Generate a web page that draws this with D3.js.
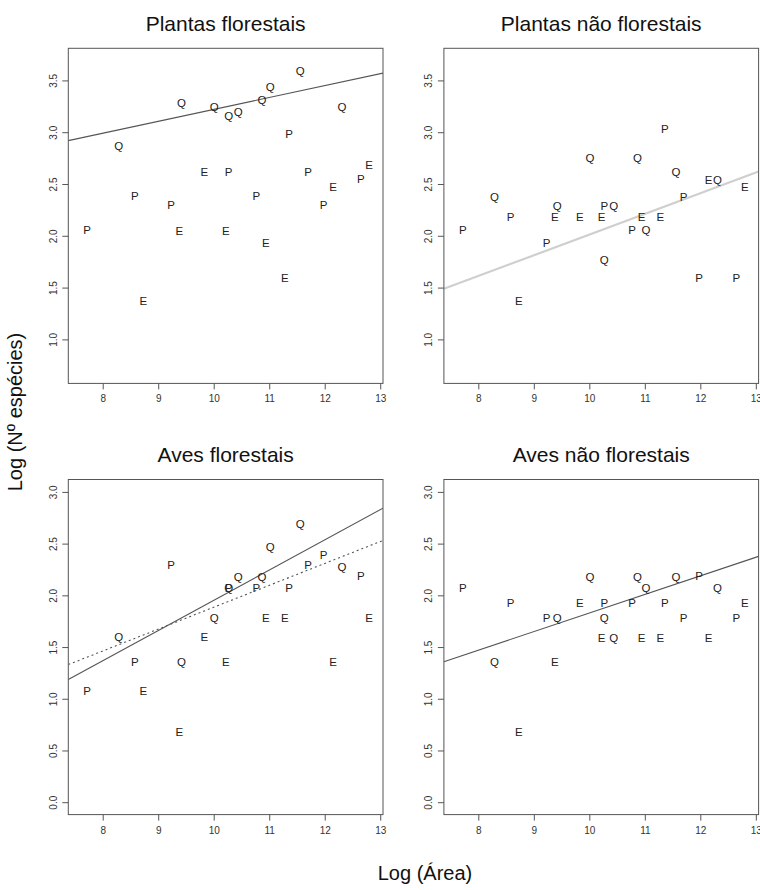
<!DOCTYPE html>
<html>
<head>
<meta charset="UTF-8">
<script src="https://d3js.org/d3.v7.min.js"></script>
<style>
  body { margin: 0; background: #fff; }
  text { font-family: 'Liberation Sans', Arial, sans-serif; }
</style>
</head>
<body>
<script>
var width = 760, height = 890;

// sites (same areas in the four panels)
var siteType = ['P','Q','P','E','P','E','Q','E','Q','E','P','Q','Q',
                'P','Q','E','Q','E','P','Q','P','P','E','Q','P','E'];
var logArea = [7.72, 8.29, 8.58, 8.73, 9.23, 9.38, 9.42, 9.83, 10.01, 10.22, 10.27, 10.27, 10.44,
               10.77, 10.87, 10.94, 11.02, 11.28, 11.36, 11.56, 11.70, 11.98, 12.15, 12.31, 12.65, 12.80];

// log of number of species per site
var plantasFlorestais    = [2.06, 2.87, 2.39, 1.37, 2.30, 2.05, 3.28, 2.62, 3.24, 2.05, 2.62, 3.16, 3.20,
                            2.39, 3.31, 1.93, 3.44, 1.59, 2.98, 3.59, 2.62, 2.30, 2.47, 3.24, 2.55, 2.68];
var plantasNaoFlorestais = [2.06, 2.38, 2.18, 1.37, 1.93, 2.18, 2.29, 2.18, 2.75, 2.18, 2.29, 1.77, 2.29,
                            2.06, 2.75, 2.18, 2.06, 2.18, 3.03, 2.62, 2.38, 1.59, 2.54, 2.54, 1.59, 2.47];
var avesFlorestais       = [1.08, 1.60, 1.36, 1.08, 2.29, 0.68, 1.36, 1.60, 1.78, 1.36, 2.07, 2.07, 2.18,
                            2.07, 2.18, 1.78, 2.47, 1.78, 2.07, 2.69, 2.29, 2.39, 1.36, 2.28, 2.19, 1.78];
var avesNaoFlorestais    = [2.07, 1.36, 1.93, 0.68, 1.78, 1.36, 1.78, 1.93, 2.18, 1.59, 1.93, 1.78, 1.59,
                            1.93, 2.18, 1.59, 2.07, 1.59, 1.93, 2.18, 1.78, 2.19, 1.59, 2.07, 1.78, 1.93];

var panelTitles = ['Plantas florestais', 'Plantas não florestais', 'Aves florestais', 'Aves não florestais'];
var xTicks = [8, 9, 10, 11, 12, 13];
var yTicksPlantas = [1.0, 1.5, 2.0, 2.5, 3.0, 3.5];
var yTicksAves = [0.0, 0.5, 1.0, 1.5, 2.0, 2.5, 3.0];

// fitted lines: intercept, slope
var fitPlantasFlorestais = [{a: 2.07, b: 0.115, kind: 'solid'}];
var fitPlantasNaoFlorestais = [{a: 0.015, b: 0.1996, kind: 'light'}];
var fitAvesFlorestais = [{a: -0.968, b: 0.292, kind: 'solid'}, {a: -0.231, b: 0.2116, kind: 'dotted'}];
var fitAvesNaoFlorestais = [{a: 0.033, b: 0.1796, kind: 'solid'}];

var panels = [
  {title: panelTitles[0], y: plantasFlorestais, ticks: yTicksPlantas, dom: [0.575, 3.81], fits: fitPlantasFlorestais, col: 0, row: 0},
  {title: panelTitles[1], y: plantasNaoFlorestais, ticks: yTicksPlantas, dom: [0.575, 3.81], fits: fitPlantasNaoFlorestais, col: 1, row: 0},
  {title: panelTitles[2], y: avesFlorestais, ticks: yTicksAves, dom: [-0.12, 3.12], fits: fitAvesFlorestais, col: 0, row: 1},
  {title: panelTitles[3], y: avesNaoFlorestais, ticks: yTicksAves, dom: [-0.12, 3.12], fits: fitAvesNaoFlorestais, col: 1, row: 1}
];

var boxW = 314.7, boxH = 335.1;
var svg = d3.select('body').append('svg').attr('width', width).attr('height', height);

panels.forEach(function(p, i) {
  var left = 68.3 + p.col * 375.6, top = 48.3 + p.row * 431.2;
  var x = d3.scaleLinear().domain([7.38, 13.05]).range([0, boxW]);
  var y = d3.scaleLinear().domain(p.dom).range([boxH, 0]);

  var g = svg.append('g').attr('transform', 'translate(' + left + ',' + top + ')');

  g.append('clipPath').attr('id', 'clip' + i)
    .append('rect').attr('width', boxW).attr('height', boxH);

  // axes
  var xa = g.append('g').attr('transform', 'translate(0,' + boxH + ')')
    .call(d3.axisBottom(x).tickValues(xTicks).tickSize(6).tickPadding(6).tickFormat(d3.format('d')));
  var ya = g.append('g')
    .call(d3.axisLeft(y).tickValues(p.ticks).tickSize(6).tickFormat(d3.format('.1f')));
  [xa, ya].forEach(function(a) {
    a.select('.domain').remove();
    a.selectAll('line').attr('stroke', '#555');
    a.selectAll('text').attr('fill', '#333').style('font-size', '10px');
  });
  ya.selectAll('text')
    .attr('x', null).attr('dy', null)
    .attr('text-anchor', 'middle')
    .attr('transform', 'translate(-15,0) rotate(-90) translate(0,3.5)');

  // fitted lines
  g.selectAll('line.fit').data(p.fits).join('line')
    .attr('class', 'fit')
    .attr('clip-path', 'url(#clip' + i + ')')
    .attr('x1', x(7.38)).attr('x2', x(13.05))
    .attr('y1', function(d) { return y(d.a + d.b * 7.38); })
    .attr('y2', function(d) { return y(d.a + d.b * 13.05); })
    .attr('stroke', function(d) { return d.kind == 'light' ? '#cfcfcf' : '#555'; })
    .attr('stroke-width', function(d) { return d.kind == 'light' ? 2.2 : 1.1; })
    .attr('stroke-dasharray', function(d) { return d.kind == 'dotted' ? '2,3' : null; });

  // site letters
  g.selectAll('text.pt').data(p.y).join('text')
    .attr('class', 'pt')
    .attr('x', function(d, j) { return x(logArea[j]); })
    .attr('y', function(d) { return y(d); })
    .attr('dy', '0.36em')
    .attr('text-anchor', 'middle')
    .attr('fill', '#222')
    .style('font-size', '11.5px')
    .text(function(d, j) { return siteType[j]; });

  g.append('rect').attr('width', boxW).attr('height', boxH)
    .attr('fill', 'none').attr('stroke', '#555').attr('stroke-width', 1);

  g.append('text')
    .attr('x', boxW / 2).attr('y', -17.5)
    .attr('text-anchor', 'middle')
    .attr('fill', '#111')
    .style('font-size', '21px')
    .text(p.title);
});

svg.append('text')
  .attr('x', 425).attr('y', 880)
  .attr('text-anchor', 'middle').attr('fill', '#111')
  .style('font-size', '20px')
  .text('Log (Área)');

svg.append('text')
  .attr('transform', 'translate(22,412) rotate(-90)')
  .attr('text-anchor', 'middle').attr('fill', '#111')
  .style('font-size', '20px')
  .text('Log (Nº espécies)');
</script>
</body>
</html>
